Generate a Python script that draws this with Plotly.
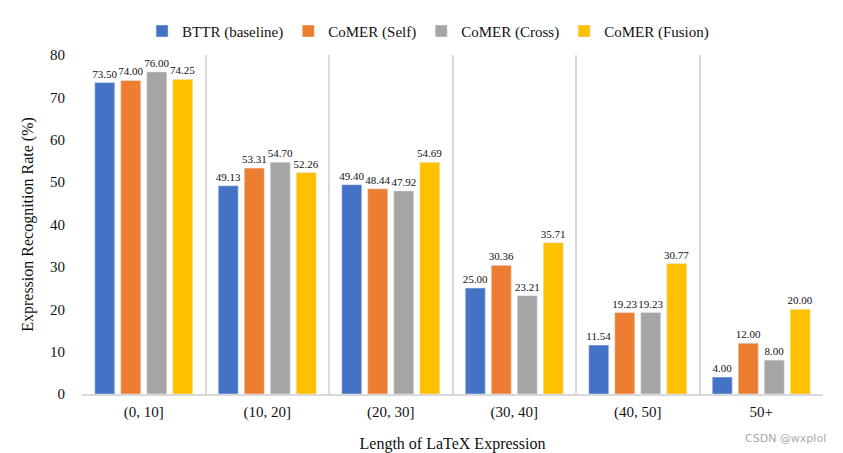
import plotly.graph_objects as go

categories = ["(0, 10]", "(10, 20]", "(20, 30]", "(30, 40]", "(40, 50]", "50+"]
series_names = ["BTTR (baseline)", "CoMER (Self)", "CoMER (Cross)", "CoMER (Fusion)"]
bttr = [73.50, 49.13, 49.40, 25.00, 11.54, 4.00]
comer_self = [74.00, 53.31, 48.44, 30.36, 19.23, 12.00]
comer_cross = [76.00, 54.70, 47.92, 23.21, 19.23, 8.00]
comer_fusion = [74.25, 52.26, 54.69, 35.71, 30.77, 20.00]
colors = ["#4472C4", "#ED7D31", "#A5A5A5", "#FFC000"]
y_ticks = [0, 10, 20, 30, 40, 50, 60, 70, 80]

FONT = "Liberation Serif, Times New Roman, serif"

fig = go.Figure()
for name, vals, col in zip(series_names, [bttr, comer_self, comer_cross, comer_fusion], colors):
    fig.add_trace(go.Bar(
        x=categories, y=vals, name=name, marker_color=col,
        text=[f"{v:.2f}" for v in vals], textposition="outside",
        textfont=dict(family=FONT, size=11, color="#111"),
        constraintext="none", cliponaxis=False,
    ))

fig.update_layout(
    width=843, height=453,
    margin=dict(l=82, r=20, t=55, b=59, autoexpand=False),
    paper_bgcolor="white", plot_bgcolor="white",
    barmode="group", bargap=0.158, bargroupgap=0.23,
    font=dict(family=FONT, size=14, color="#111"),
    legend=dict(orientation="h", x=0.467, xanchor="center", y=1.07, yanchor="middle",
                font=dict(family=FONT, size=15, color="#111"),
                itemwidth=30, traceorder="normal"),
)
fig.update_xaxes(
    type="category", tickson="boundaries", showgrid=True, gridcolor="#d9d9d9", gridwidth=1.5,
    ticks="", showline=True, linecolor="#d9d9d9", linewidth=1.5, automargin=False,
    ticklabelstandoff=3,
    tickfont=dict(family=FONT, size=15, color="#111"),
    title=dict(text="Length of LaTeX Expression", font=dict(family=FONT, size=16, color="#111"), standoff=24),
)
fig.update_yaxes(
    range=[0, 80], tickvals=y_ticks, showgrid=False, zeroline=False, showline=False,
    automargin=False, ticklabelstandoff=16,
    tickfont=dict(family=FONT, size=15, color="#111"), ticks="",
    title=dict(text="Expression Recognition Rate (%)", font=dict(family=FONT, size=16, color="#111"), standoff=12),
)
fig.add_annotation(text="CSDN @wxplol", xref="paper", yref="paper", x=1.007, y=-0.13,
                   xanchor="right", yanchor="middle", showarrow=False,
                   font=dict(family="DejaVu Sans, sans-serif", size=11, color="#aaaaaa"))

fig.write_html("out.html")
